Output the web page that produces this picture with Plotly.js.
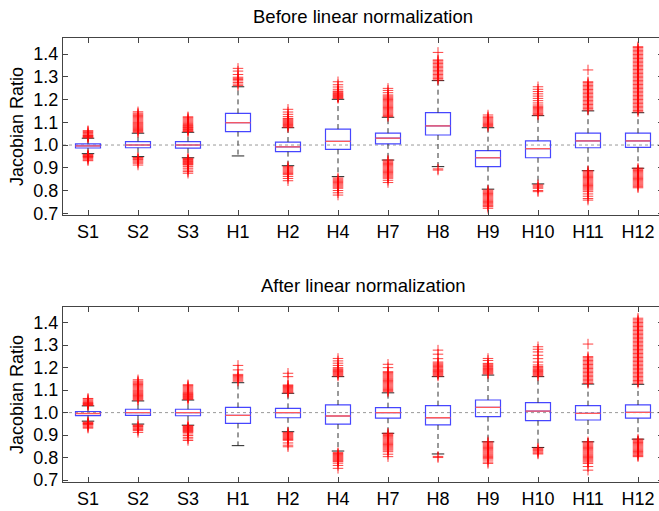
<!DOCTYPE html>
<html>
<head>
<meta charset="utf-8">
<script src="https://cdn.plot.ly/plotly-3.0.1.min.js"></script>
<style>
html,body{margin:0;padding:0;overflow:hidden;background:#fff;}
#chart{width:664px;height:511px;}
</style>
</head>
<body>
<div id="chart"></div>
<script>
// ---------------- data ----------------
const categories = ['S1','S2','S3','H1','H2','H4','H7','H8','H9','H10','H11','H12'];
const refLine = 1.0;

// Before linear normalization
const beforeQ1     = [0.987,0.988,0.986,1.059,0.971,0.981,1.005,1.044,0.905,0.944,0.988,0.990];
const beforeMedian = [0.996,1.000,1.000,1.098,0.992,1.016,1.030,1.084,0.944,0.984,1.018,1.018];
const beforeQ3     = [1.005,1.015,1.015,1.139,1.013,1.070,1.052,1.142,0.975,1.018,1.052,1.052];
const beforeLow    = [0.962,0.949,0.944,0.952,0.909,0.861,0.934,0.905,0.806,0.829,0.887,0.898];
const beforeHigh   = [1.030,1.052,1.056,1.256,1.076,1.201,1.122,1.283,1.076,1.129,1.150,1.142];
const beforeOutliers = [
  [1.032,1.035,1.037,1.040,1.042,1.045,1.050,1.055,1.060,1.063, 0.958,0.955,0.952,0.950,0.948,0.945,0.940,0.935,0.931],
  [1.056,1.060,1.064,1.068,1.072,1.076,1.080,1.084,1.088,1.092,1.096,1.100,1.105,1.110,1.115,1.120,1.125,1.130,1.135,1.140,1.146, 0.945,0.942,0.938,0.935,0.930,0.925,0.920,0.912],
  [1.059,1.062,1.065,1.068,1.071,1.074,1.077,1.080,1.083,1.086,1.090,1.095,1.100,1.105,1.110,1.115,1.120,1.124, 0.942,0.939,0.936,0.933,0.930,0.927,0.924,0.921,0.918,0.915,0.912,0.905,0.898,0.890,0.883,0.876],
  [1.262,1.268,1.275,1.282,1.288,1.293,1.298,1.310,1.325,1.337],
  [1.078,1.082,1.086,1.090,1.094,1.098,1.102,1.106,1.110,1.114,1.117,1.125,1.135,1.145,1.157, 0.905,0.900,0.895,0.890,0.885,0.880,0.875,0.870,0.862,0.853,0.843],
  [1.205,1.208,1.211,1.214,1.217,1.220,1.223,1.226,1.230,1.234,1.237,1.245,1.255,1.265,1.278, 0.855,0.850,0.845,0.840,0.835,0.830,0.825,0.820,0.815,0.810,0.800,0.790,0.780],
  [1.125,1.130,1.135,1.140,1.145,1.150,1.155,1.160,1.165,1.170,1.175,1.180,1.185,1.190,1.195,1.200,1.205,1.210,1.215,1.220,1.230,1.240,1.249, 0.934,0.929,0.924,0.919,0.914,0.909,0.904,0.899,0.894,0.889,0.884,0.879,0.874,0.869,0.864,0.859,0.854,0.845,0.835],
  [1.286,1.292,1.298,1.304,1.310,1.316,1.322,1.328,1.334,1.340,1.346,1.352,1.358,1.364,1.370,1.374,1.407, 0.895,0.890],
  [1.081,1.086,1.090,1.095,1.100,1.105,1.110,1.115,1.120,1.124,1.132, 0.802,0.797,0.792,0.787,0.782,0.777,0.772,0.767,0.762,0.757,0.752,0.747,0.742,0.737,0.733,0.729,0.722],
  [1.132,1.136,1.140,1.145,1.150,1.155,1.160,1.165,1.170,1.176,1.185,1.195,1.205,1.215,1.225,1.235,1.245,1.256, 0.825,0.820,0.815,0.810,0.800,0.795],
  [1.154,1.160,1.166,1.172,1.178,1.184,1.190,1.196,1.202,1.208,1.214,1.220,1.226,1.232,1.238,1.244,1.250,1.256,1.262,1.268,1.274,1.278,1.330, 0.887,0.882,0.877,0.872,0.867,0.862,0.857,0.852,0.847,0.842,0.837,0.832,0.827,0.822,0.817,0.812,0.807,0.802,0.795,0.785,0.775,0.765,0.758],
  [1.146,1.152,1.158,1.164,1.170,1.176,1.182,1.188,1.194,1.200,1.206,1.212,1.218,1.224,1.230,1.236,1.242,1.248,1.254,1.260,1.266,1.272,1.278,1.284,1.290,1.296,1.302,1.308,1.314,1.320,1.326,1.332,1.338,1.344,1.350,1.356,1.362,1.368,1.374,1.380,1.386,1.392,1.398,1.404,1.410,1.416,1.422,1.428,1.432, 0.898,0.893,0.888,0.883,0.878,0.873,0.868,0.863,0.858,0.853,0.848,0.843,0.838,0.833,0.828,0.823,0.817,0.812]
];

// After linear normalization
const afterQ1     = [0.987,0.988,0.986,0.952,0.977,0.949,0.975,0.945,0.982,0.964,0.967,0.975];
const afterMedian = [0.996,1.000,1.000,0.988,1.000,0.985,1.000,0.977,1.023,1.007,0.997,1.001];
const afterQ3     = [1.005,1.015,1.015,1.023,1.019,1.034,1.022,1.031,1.056,1.044,1.031,1.034];
const afterLow    = [0.962,0.949,0.944,0.853,0.915,0.829,0.908,0.816,0.870,0.845,0.870,0.882];
const afterHigh   = [1.030,1.052,1.056,1.133,1.086,1.160,1.088,1.160,1.167,1.160,1.127,1.126];
const afterOutliers = [
  [1.032,1.035,1.037,1.040,1.042,1.045,1.050,1.055,1.060,1.063, 0.958,0.955,0.952,0.950,0.948,0.945,0.940,0.935,0.931],
  [1.056,1.060,1.064,1.068,1.072,1.076,1.080,1.084,1.088,1.092,1.096,1.100,1.105,1.110,1.115,1.120,1.125,1.130,1.135,1.140,1.146, 0.945,0.942,0.938,0.935,0.930,0.925,0.920,0.912],
  [1.059,1.062,1.065,1.068,1.071,1.074,1.077,1.080,1.083,1.086,1.090,1.095,1.100,1.105,1.110,1.115,1.120,1.124, 0.942,0.939,0.936,0.933,0.930,0.927,0.924,0.921,0.918,0.915,0.912,0.905,0.898,0.890,0.883,0.876],
  [1.140,1.145,1.150,1.155,1.160,1.165,1.170,1.190,1.210],
  [1.088,1.092,1.096,1.100,1.104,1.108,1.112,1.116,1.120,1.123,1.160,1.175, 0.912,0.908,0.904,0.900,0.896,0.892,0.888,0.884,0.880,0.877,0.865,0.855,0.848],
  [1.163,1.167,1.171,1.175,1.179,1.183,1.187,1.191,1.195,1.200,1.210,1.220,1.230,1.241, 0.822,0.818,0.814,0.810,0.806,0.802,0.798,0.794,0.790,0.786,0.782,0.775,0.765,0.752],
  [1.093,1.098,1.103,1.108,1.113,1.118,1.123,1.128,1.133,1.138,1.143,1.148,1.153,1.158,1.163,1.168,1.173,1.178,1.182,1.200,1.215, 0.908,0.903,0.898,0.893,0.888,0.883,0.878,0.873,0.868,0.863,0.858,0.853,0.848,0.843,0.838,0.833,0.826,0.815,0.804],
  [1.163,1.167,1.171,1.175,1.179,1.183,1.187,1.191,1.195,1.200,1.205,1.210,1.215,1.220,1.225,1.240,1.260,1.278, 0.805,0.800],
  [1.172,1.176,1.180,1.184,1.188,1.192,1.196,1.200,1.205,1.210,1.215,1.219,1.232,1.241, 0.870,0.865,0.860,0.855,0.850,0.845,0.840,0.835,0.830,0.825,0.820,0.815,0.810,0.805,0.800,0.795,0.789,0.780,0.774],
  [1.163,1.167,1.171,1.175,1.179,1.183,1.187,1.191,1.195,1.200,1.205,1.212,1.225,1.240,1.255,1.270,1.282,1.293, 0.842,0.838,0.834,0.830,0.825,0.820,0.816],
  [1.130,1.136,1.142,1.148,1.154,1.160,1.166,1.172,1.178,1.184,1.190,1.196,1.202,1.208,1.214,1.220,1.226,1.232,1.238,1.244,1.249,1.305, 0.870,0.865,0.860,0.855,0.850,0.845,0.840,0.835,0.830,0.825,0.820,0.815,0.810,0.805,0.800,0.795,0.790,0.785,0.780,0.774,0.760,0.744],
  [1.131,1.137,1.143,1.149,1.155,1.161,1.167,1.173,1.179,1.185,1.191,1.197,1.203,1.209,1.215,1.221,1.227,1.233,1.239,1.245,1.251,1.257,1.263,1.269,1.275,1.281,1.287,1.293,1.299,1.305,1.311,1.317,1.323,1.329,1.335,1.341,1.347,1.353,1.359,1.365,1.371,1.377,1.383,1.389,1.395,1.401,1.407,1.413,1.420, 0.882,0.877,0.872,0.867,0.862,0.857,0.852,0.847,0.842,0.837,0.832,0.827,0.822,0.817,0.812,0.808,0.804]
];

// ---------------- styles ----------------
const BOX_W = 0.5, CAP_W = 0.25;
const BLUE = 'rgb(70,70,255)', RED = 'rgb(255,0,0)', MEDRED = 'rgb(255,90,90)', BLACK = '#222';
const FONT = 'Liberation Sans, Arial, Helvetica, sans-serif';
const positions = categories.map((c, i) => i + 1);

function panelTraces(q1, med, q3, lo, hi, outs, xa, ya) {
  const traces = [];
  const wx = [], wy = [], cx = [], cy = [], mx = [], my = [];
  positions.forEach((p, i) => {
    wx.push(p, p, null, p, p, null);
    wy.push(q3[i], hi[i], null, q1[i], lo[i], null);
    cx.push(p - CAP_W / 2, p + CAP_W / 2, null, p - CAP_W / 2, p + CAP_W / 2, null);
    cy.push(hi[i], hi[i], null, lo[i], lo[i], null);
    mx.push(p - BOX_W / 2, p + BOX_W / 2, null);
    my.push(med[i], med[i], null);
  });
  traces.push({type: 'scatter', mode: 'lines', x: wx, y: wy, xaxis: xa, yaxis: ya,
    line: {color: '#333', width: 1, dash: '5px,4px'}, hoverinfo: 'skip', showlegend: false});
  traces.push({type: 'scatter', mode: 'lines', x: cx, y: cy, xaxis: xa, yaxis: ya,
    line: {color: BLACK, width: 1}, hoverinfo: 'skip', showlegend: false});
  traces.push({type: 'box', x: positions, q1: q1, median: med, q3: q3,
    lowerfence: q1, upperfence: q3, width: BOX_W, boxpoints: false,
    xaxis: xa, yaxis: ya, line: {color: BLUE, width: 1.2},
    fillcolor: 'rgba(0,0,0,0)', showlegend: false, hoverinfo: 'skip'});
  traces.push({type: 'scatter', mode: 'lines', x: mx, y: my, xaxis: xa, yaxis: ya,
    line: {color: MEDRED, width: 1.3}, hoverinfo: 'skip', showlegend: false});
  const ox = [], oy = [];
  outs.forEach((arr, i) => arr.forEach(v => { ox.push(positions[i]); oy.push(v); }));
  traces.push({type: 'scatter', mode: 'markers', x: ox, y: oy, xaxis: xa, yaxis: ya,
    marker: {symbol: 'cross-thin-open', size: 7.5, color: RED, opacity: 0.75, line: {color: RED, width: 1}},
    hoverinfo: 'skip', showlegend: false});
  return traces;
}

const data = [].concat(
  panelTraces(beforeQ1, beforeMedian, beforeQ3, beforeLow, beforeHigh, beforeOutliers, 'x', 'y'),
  panelTraces(afterQ1, afterMedian, afterQ3, afterLow, afterHigh, afterOutliers, 'x2', 'y2')
);

const yTicks = [0.7, 0.8, 0.9, 1.0, 1.1, 1.2, 1.3, 1.4];
const xAxisBase = {
  range: [0.5, 12.5], tickmode: 'array', tickvals: positions, ticktext: categories,
  ticks: 'inside', ticklen: 5, tickcolor: '#444', showline: true, linecolor: '#444', linewidth: 1,
  mirror: 'ticks', showgrid: false, zeroline: false,
  tickfont: {family: FONT, size: 18, color: '#000'}
};
const yAxisBase = {
  tickmode: 'array', tickvals: yTicks, ticktext: yTicks.map(v => v.toFixed(1)),
  ticks: 'inside', ticklen: 5, tickcolor: '#444', showline: true, linecolor: '#444', linewidth: 1,
  mirror: 'ticks', showgrid: false, zeroline: false,
  tickfont: {family: FONT, size: 18, color: '#000'},
  title: {text: 'Jacobian Ratio', font: {family: FONT, size: 18, color: '#000'}, standoff: 5}
};

const layout = {
  width: 664, height: 511,
  margin: {l: 63, r: 1, t: 0, b: 0},
  paper_bgcolor: '#fff', plot_bgcolor: '#fff',
  showlegend: false,
  xaxis: Object.assign({}, xAxisBase, {anchor: 'y', domain: [0, 1]}),
  yaxis: Object.assign({}, yAxisBase, {anchor: 'x', domain: [0.5793, 0.9256], range: [0.6925, 1.4703]}),
  xaxis2: Object.assign({}, xAxisBase, {anchor: 'y2', domain: [0, 1]}),
  yaxis2: Object.assign({}, yAxisBase, {anchor: 'x2', domain: [0.0562, 0.3998], range: [0.690, 1.4712]}),
  shapes: [
    {type: 'line', xref: 'x domain', yref: 'y', x0: 0, x1: 1, y0: refLine, y1: refLine,
     line: {color: '#999', width: 1, dash: 'dot'}, layer: 'below'},
    {type: 'line', xref: 'x2 domain', yref: 'y2', x0: 0, x1: 1, y0: refLine, y1: refLine,
     line: {color: '#999', width: 1, dash: 'dot'}, layer: 'below'}
  ],
  annotations: [
    {text: 'Before linear normalization', xref: 'x domain', yref: 'paper', x: 0.5, y: 1 - 17 / 511,
     xanchor: 'center', yanchor: 'middle', showarrow: false, font: {family: FONT, size: 18.5, color: '#000'}},
    {text: 'After linear normalization', xref: 'x2 domain', yref: 'paper', x: 0.5, y: 1 - 285 / 511,
     xanchor: 'center', yanchor: 'middle', showarrow: false, font: {family: FONT, size: 18.5, color: '#000'}}
  ]
};

Plotly.newPlot('chart', data, layout, {displayModeBar: false, staticPlot: true});
</script>
</body>
</html>
